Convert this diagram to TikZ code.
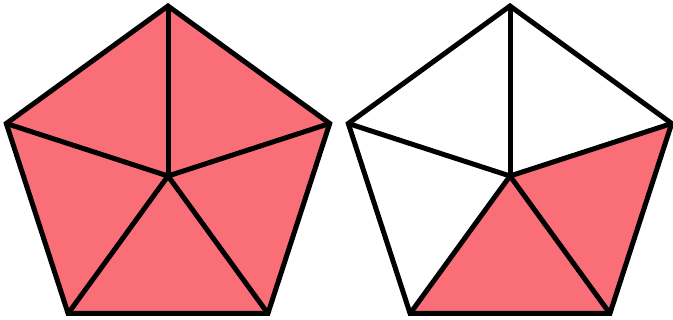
\documentclass[tikz,border=0pt]{standalone}
\definecolor{pinkfill}{RGB}{250,110,120}
\tikzset{edge/.style={line width=5pt, line join=miter, draw=black},
         shade/.style={fill=pinkfill}}
\begin{document}
\begin{tikzpicture}[x=1pt,y=-1pt]
\useasboundingbox (0,0) rectangle (673,320);
% left pentagon
\coordinate (LC) at (168,176);
\coordinate (L1) at (168,6);
\coordinate (L2) at (329.7,123.5);
\coordinate (L3) at (267.9,313.5);
\coordinate (L4) at (68.1,313.5);
\coordinate (L5) at (6.3,123.5);
% right pentagon
\coordinate (RC) at (510,176);
\coordinate (R1) at (510,6);
\coordinate (R2) at (671.7,123.5);
\coordinate (R3) at (609.9,313.5);
\coordinate (R4) at (410.1,313.5);
\coordinate (R5) at (348.3,123.5);
% fills
\fill[shade] (L1) -- (L2) -- (L3) -- (L4) -- (L5) -- cycle;
\fill[shade] (RC) -- (R2) -- (R3) -- (R4) -- cycle;
% outlines and spokes
\draw[edge] (L1) -- (L2) -- (L3) -- (L4) -- (L5) -- cycle;
\foreach \n in {1,...,5}{\draw[edge] (LC) -- (L\n);}
\draw[edge] (R1) -- (R2) -- (R3) -- (R4) -- (R5) -- cycle;
\foreach \n in {1,...,5}{\draw[edge] (RC) -- (R\n);}
\end{tikzpicture}
\end{document}
